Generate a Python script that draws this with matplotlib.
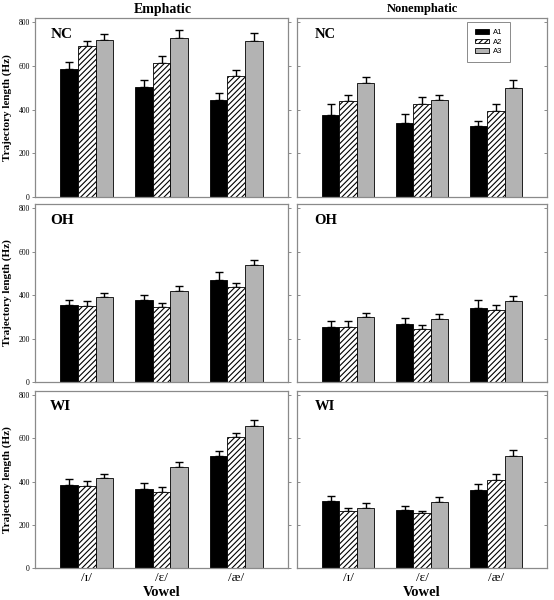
import matplotlib
matplotlib.use("Agg")
import matplotlib.pyplot as plt
import numpy as np

vowels = ["/\u026a/", "/\u025b/", "/\u00e6/"]
series = ["A1", "A2", "A3"]
groups = ["NC", "OH", "WI"]
conditions = ["Emphatic", "Nonemphatic"]

# rows = series (A1, A2, A3), cols = vowels
emph_nc_mean = [[587, 506, 445], [694, 616, 553], [720, 730, 713]]
emph_nc_err = [[30, 31, 32], [22, 28, 28], [28, 33, 38]]
non_nc_mean = [[376, 340, 325], [440, 425, 394], [521, 445, 498]]
non_nc_err = [[49, 40, 21], [29, 32, 32], [28, 23, 39]]

emph_oh_mean = [[354, 378, 469], [352, 346, 437], [392, 421, 541]]
emph_oh_err = [[26, 22, 36], [20, 19, 17], [19, 20, 23]]
non_oh_mean = [[252, 269, 341], [254, 243, 331], [300, 288, 372]]
non_oh_err = [[29, 26, 37], [27, 20, 24], [20, 26, 26]]

emph_wi_mean = [[386, 364, 518], [379, 352, 605], [416, 467, 657]]
emph_wi_err = [[26, 28, 23], [23, 21, 22], [19, 23, 27]]
non_wi_mean = [[309, 270, 362], [263, 253, 407], [280, 307, 518]]
non_wi_err = [[26, 16, 27], [15, 13, 27], [23, 22, 30]]

yticks = [0, 200, 400, 600, 800]

means = {
    ("NC", "Emphatic"): (emph_nc_mean, emph_nc_err),
    ("NC", "Nonemphatic"): (non_nc_mean, non_nc_err),
    ("OH", "Emphatic"): (emph_oh_mean, emph_oh_err),
    ("OH", "Nonemphatic"): (non_oh_mean, non_oh_err),
    ("WI", "Emphatic"): (emph_wi_mean, emph_wi_err),
    ("WI", "Nonemphatic"): (non_wi_mean, non_wi_err),
}

plt.rcParams['hatch.linewidth'] = 0.8
serif = ['Liberation Serif', 'DejaVu Serif']
sans = ['Liberation Sans', 'DejaVu Sans']

W, H = 554, 600
fig = plt.figure(figsize=(W / 100, H / 100), dpi=100)

cols_px = [(35, 288), (297, 547)]
rows_px = [(18, 197), (204, 382), (391, 568)]

spine_col = '#8a8a8a'
styles = [dict(color='black', hatch=None),
          dict(color='white', hatch='//////'),
          dict(color='#b3b3b3', hatch=None)]

x = np.arange(len(vowels))
bw = 0.235
offsets = [-bw, 0, bw]

for r, g in enumerate(groups):
    for c, cond in enumerate(conditions):
        x0, x1 = cols_px[c]
        t, b = rows_px[r]
        ax = fig.add_axes([x0 / W, 1 - b / H, (x1 - x0) / W, (b - t) / H])
        m, e = means[(g, cond)]
        handles = []
        for i in range(3):
            bars = ax.bar(x + offsets[i], m[i], width=bw, color=styles[i]['color'],
                          hatch=styles[i]['hatch'], edgecolor='black', linewidth=0.6,
                          label=series[i], zorder=2)
            ax.errorbar(x + offsets[i], m[i], yerr=[np.zeros(3), e[i]], fmt='none',
                        ecolor='black', elinewidth=1.0, capsize=2.6, capthick=1.0, zorder=1)
            handles.append(bars)
        ax.set_xlim(-0.693, 2.693)
        ax.set_ylim(0, 820)
        ax.set_yticks(yticks)
        for s in ax.spines.values():
            s.set_color(spine_col)
            s.set_linewidth(0.9)
        ax.tick_params(axis='x', length=0)
        if c == 0:
            ax.tick_params(axis='y', direction='out', length=2.5, width=0.7,
                           color=spine_col, labelsize=5.5, pad=1.2, right=True)
            ax.set_yticklabels([str(v) for v in yticks], family=serif)
            ax.set_ylabel("Trajectory length (Hz)", family=serif, fontweight='bold',
                          fontsize=8)
            ax.yaxis.set_label_coords(-0.09, 0.5)
        else:
            ax.tick_params(axis='y', direction='in', length=2.5, width=0.7,
                           color=spine_col, labelleft=False, right=True)
        ax.set_xticks(x)
        if r == 2:
            ax.set_xticklabels(vowels, family=serif, fontsize=9.5)
            ax.tick_params(axis='x', pad=3)
        else:
            ax.set_xticklabels([])
        lx = 0.06 if c == 0 else 0.07
        ax.text(lx, 0.91, g, transform=ax.transAxes, family=serif, fontweight='bold',
                fontsize=11 if c == 0 else 10.5, va='center', ha='left')
        if r == 0 and c == 1:
            leg = ax.legend(handles=handles, labels=series, loc='upper right',
                            bbox_to_anchor=(0.852, 0.978), borderaxespad=0,
                            prop={'family': sans, 'size': 5.5}, fancybox=False,
                            edgecolor=spine_col, handlelength=1.9, handleheight=0.6,
                            labelspacing=0.3, borderpad=0.95, handletextpad=0.55,
                            framealpha=1)
            leg.get_frame().set_linewidth(0.7)

fig.text(163 / W, 1 - 9 / H, conditions[0], family=serif, fontweight='bold',
         fontsize=10, ha='center', va='center')
fig.text(422 / W, 1 - 9 / H, conditions[1], family=serif, fontweight='bold',
         fontsize=9, ha='center', va='center')
fig.text(162 / W, 1 - 593 / H, "Vowel", family=serif, fontweight='bold',
         fontsize=10.5, ha='center', va='center')
fig.text(422 / W, 1 - 593 / H, "Vowel", family=serif, fontweight='bold',
         fontsize=10.5, ha='center', va='center')

fig.savefig("out.png", dpi=100)
